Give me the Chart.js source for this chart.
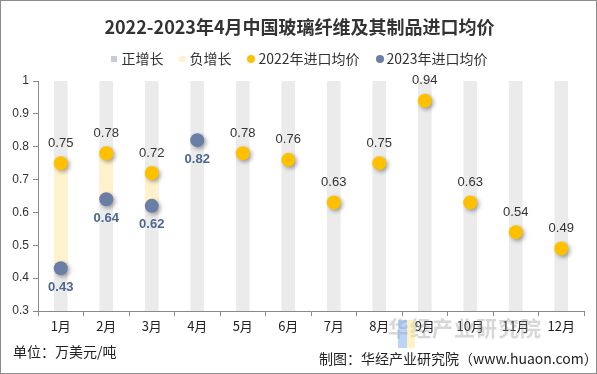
<!DOCTYPE html>
<html><head><meta charset="utf-8">
<script src="https://cdn.jsdelivr.net/npm/chart.js@4/dist/chart.umd.min.js"></script>
<style>
html,body{margin:0;padding:0;background:#fff;}
#wrap{position:relative;width:597px;height:374px;box-sizing:border-box;border:1px solid #8c8c8c;font-family:"Noto Sans CJK SC","Noto Sans",sans-serif;color:#222;overflow:hidden;}
#c{position:absolute;left:0;top:0;}
.t{position:absolute;white-space:nowrap;line-height:1.4;}
#title{left:0;width:597px;text-align:center;top:12px;font-size:18px;line-height:26px;font-weight:bold;color:#333;}
#legend{left:0;width:597px;text-align:center;top:47px;font-size:14px;line-height:20px;color:#333;}
#legend span{margin:0 8px;}
.sq{display:inline-block;width:6px;height:6px;margin-right:4px;vertical-align:2px;}
.ci{display:inline-block;width:8px;height:8px;border-radius:50%;margin-right:3px;vertical-align:1px;}
</style></head>
<body>
<div id="wrap">
<canvas id="c" width="597" height="374"></canvas>
<div class="t" id="title">2022-2023年4月中国玻璃纤维及其制品进口均价</div>
<div class="t" id="legend"><span><i class="sq" style="background:#c5cbd9"></i>正增长</span><span><i class="sq" style="background:#fff2cc"></i>负增长</span><span><i class="ci" style="background:#ffc000"></i>2022年进口均价</span><span><i class="ci" style="background:#6a7ea6"></i>2023年进口均价</span></div>
<div class="t" style="left:387px;top:312px;font-size:21px;font-weight:bold;color:rgba(140,140,140,0.35);letter-spacing:1px;">华经产业研究院</div>
<div class="t" style="left:397px;top:319px;width:9px;height:28px;background:rgba(120,170,240,0.5);"></div>
<div class="t" style="left:406px;top:319px;width:8px;height:28px;background:rgba(255,230,140,0.5);"></div>
<div class="t" style="left:12px;top:340px;font-size:14px;line-height:20px;color:#222;">单位：万美元/吨</div>
<div class="t" style="left:318px;top:347px;font-size:14px;line-height:20px;color:#222;">制图：华经产业研究院（www.huaon.com）</div>
</div>
<script>
const categories = ['1月','2月','3月','4月','5月','6月','7月','8月','9月','10月','11月','12月'];
const avg2022 = [0.75,0.78,0.72,null,0.78,0.76,0.63,0.75,0.94,0.63,0.54,0.49];
const avg2023 = [0.43,0.64,0.62,0.82,null,null,null,null,null,null,null,null];
const yMin = 0.3, yMax = 1, yStep = 0.1;

const bgBars = categories.map(() => [yMin, yMax]);
const posBars = categories.map((_, i) => (avg2022[i] != null && avg2023[i] != null && avg2023[i] >= avg2022[i]) ? [avg2022[i], avg2023[i]] : null);
const negBars = categories.map((_, i) => (avg2022[i] != null && avg2023[i] != null && avg2023[i] < avg2022[i]) ? [avg2023[i], avg2022[i]] : null);

const shadowPlugin = {
  id: 'shadow',
  beforeDatasetDraw(chart, args) {
    if (args.meta.type === 'line') {
      const ctx = chart.ctx; ctx.save();
      ctx.shadowColor = 'rgba(0,0,0,0.35)'; ctx.shadowBlur = 4; ctx.shadowOffsetX = 2; ctx.shadowOffsetY = 2;
    }
  },
  afterDatasetDraw(chart, args) {
    if (args.meta.type === 'line') chart.ctx.restore();
  }
};
const labelPlugin = {
  id: 'labels',
  afterDatasetsDraw(chart) {
    const ctx = chart.ctx;
    chart.data.datasets.forEach((ds, di) => {
      if (!ds.labelPos) return;
      const meta = chart.getDatasetMeta(di);
      meta.data.forEach((pt, i) => {
        const v = ds.data[i]; if (v == null) return;
        ctx.save();
        ctx.font = ds.labelFont; ctx.fillStyle = ds.labelColor;
        ctx.textAlign = 'center'; ctx.textBaseline = 'middle';
        ctx.fillText(v.toFixed(2), pt.x, pt.y + (ds.labelPos === 'top' ? -20 : 19));
        ctx.restore();
      });
    });
  }
};

new Chart(document.getElementById('c'), {
  type: 'bar',
  data: {
    labels: categories,
    datasets: [
      {type:'line', label:'2023年进口均价', data: avg2023, showLine:false, pointRadius:7, pointHoverRadius:7, pointBackgroundColor:'#6a7ea6', pointBorderWidth:0, order:0, labelPos:'bottom', labelFont:'bold 13px "Liberation Sans", Arial, sans-serif', labelColor:'#4d6790'},
      {type:'line', label:'2022年进口均价', data: avg2022, showLine:false, pointRadius:7, pointHoverRadius:7, pointBackgroundColor:'#ffc000', pointBorderWidth:0, order:1, labelPos:'top', labelFont:'13px "Liberation Sans", Arial, sans-serif', labelColor:'#333'},
      {label:'正增长', data: posBars, backgroundColor:'#c5cbd9', barThickness:13, grouped:false, order:2},
      {label:'负增长', data: negBars, backgroundColor:'#fff2cc', barThickness:13, grouped:false, order:3},
      {label:'bg', data: bgBars, backgroundColor:'#ebebeb', barThickness:13, grouped:false, order:4}
    ]
  },
  options: {
    responsive:false, animation:false,
    layout:{padding:{top:80, right:14, bottom:34, left:0}},
    plugins:{legend:{display:false}, title:{display:false}, tooltip:{enabled:false}},
    scales:{
      x:{
        offset:true,
        grid:{display:true, drawOnChartArea:false, drawTicks:true, tickLength:5, color:'#898989', offset:true},
        border:{display:true, color:'#898989'},
        ticks:{font:{size:13, family:'"Noto Sans CJK SC", sans-serif'}, color:'#222', padding:2},
        afterFit(s){ s.height = 30; }
      },
      y:{
        min:yMin, max:yMax,
        grid:{display:true, drawOnChartArea:false, drawTicks:true, tickLength:5, color:'#898989'},
        border:{display:true, color:'#898989'},
        ticks:{stepSize:yStep, font:{size:12, family:'"Liberation Sans", Arial, sans-serif'}, color:'#333', padding:4,
          callback(v){ return String(Math.round(v*10)/10); }},
        afterFit(s){ s.width = 37; }
      }
    }
  },
  plugins:[shadowPlugin, labelPlugin]
});
</script>
</body></html>
